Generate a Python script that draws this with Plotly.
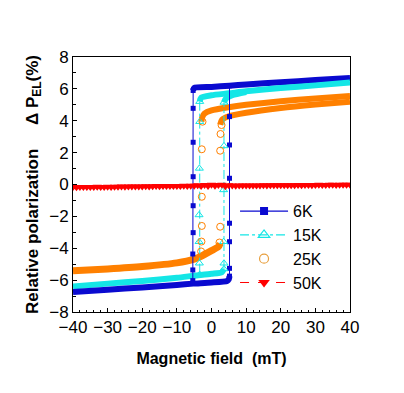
import plotly.graph_objects as go

# ---------------- data ----------------
# 6K (blue)
b6_low_x = [-40, -30, -20, -10, -5.3, 0, 4.5, 5.0, 5.2]
b6_low_y = [-6.75, -6.6, -6.46, -6.3, -6.22, -6.15, -6.05, -5.95, -5.75]
b6_up_x = [40, 30, 20, 10, 5.2, 0, -5.0, -5.3]
b6_up_y = [6.68, 6.55, 6.42, 6.28, 6.2, 6.12, 6.06, 5.9]
b6_jl_x = [-5.3, -5.3, -5.3, -5.3, -5.3, -5.3, -5.4, -5.4, -5.4, -5.4]
b6_jl_y = [5.9, 4.78, 2.65, 0.49, -1.33, -3.02, -4.36, -5.36, -6.03, -6.2]
b6_jr_x = [5.2, 5.2, 5.2, 5.2, 5.2, 5.2, 5.2, 5.2]
b6_jr_y = [-5.75, -5.26, -3.59, -2.43, 0.39, 2.48, 4.26, 6.2]

# 15K (cyan)
c15_low_x = [-40, -30, -20, -10, -5, 0, 3.0, 3.6]
c15_low_y = [-6.4, -6.22, -6.05, -5.85, -5.72, -5.6, -5.5, -5.3]
c15_upA_x = [40, 30, 20, 10, 5, 0, -3.0, -3.4]
c15_upA_y = [6.4, 6.22, 6.05, 5.85, 5.72, 5.6, 5.45, 5.2]
c15_upB_x = [3.6, 4.2, 6, 10]
c15_upB_y = [5.15, 5.4, 5.6, 5.8]
c15_jl_x = [-3.4, -3.4, -3.5, -3.6, -3.6, -3.5, -3.4]
c15_jl_y = [5.2, 3.94, 1.01, -1.91, -3.59, -4.94, -5.65]
c15_jr_x = [3.6, 3.6, 3.5, 3.5, 3.6, 3.6]
c15_jr_y = [-5.3, -4.94, -3.59, -0.34, 2.42, 5.15]

# 25K (orange)
o25_upA_x = [40, 30, 20, 10, 5, 0, -2.0, -2.7, -2.9]
o25_upA_y = [5.55, 5.4, 5.22, 5.0, 4.85, 4.65, 4.45, 4.2, 3.95]
o25_low_x = [-40, -30, -20, -10, -5, -3, 0, 2.0, 2.5]
o25_low_y = [-5.42, -5.3, -5.15, -4.92, -4.68, -4.5, -4.15, -3.9, -3.7]
o25_upB_x = [2.5, 3.0, 5, 10, 20, 30, 40]
o25_upB_y = [3.75, 4.05, 4.28, 4.5, 4.8, 5.02, 5.2]
o25_pts_x = [-2.6, -2.8, -2.8, -2.8, -2.9, -3.0, 2.9, 2.6, 2.5, 2.5, 2.3]
o25_pts_y = [3.94, 2.21, -0.77, -2.6, -3.58, -4.2, 3.73, 3.17, 2.12, -2.65, -3.64]

# 50K (red)
r50_x = list(range(-40, 41))
r50_y = [-0.16, -0.17, -0.15, -0.16, -0.16, -0.15, -0.16, -0.14, -0.15, -0.15,
         -0.14, -0.15, -0.14, -0.14, -0.13, -0.14, -0.13, -0.13, -0.12, -0.13,
         -0.12, -0.11, -0.12, -0.11, -0.10, -0.11, -0.10, -0.10, -0.09, -0.10,
         -0.09, -0.09, -0.08, -0.09, -0.08, -0.08, -0.04, -0.10, -0.03, -0.09,
         -0.02, -0.08, -0.03, -0.01, -0.11, -0.04, -0.07, -0.08, -0.07, -0.07,
         -0.07, -0.06, -0.07, -0.06, -0.06, -0.05, -0.06, -0.05, -0.05, -0.05,
         -0.05, -0.04, -0.05, -0.04, -0.04, -0.03, -0.04, -0.03, -0.03, -0.04,
         -0.03, -0.02, -0.03, -0.03, -0.02, -0.02, -0.03, -0.01, -0.02, -0.02,
         -0.01]

legend_names = ["6K", "15K", "25K", "50K"]
x_ticks = [-40, -30, -20, -10, 0, 10, 20, 30, 40]
y_ticks = [-8, -6, -4, -2, 0, 2, 4, 6, 8]

BLUE = "#0A0AD0"
CYAN = "#14E6E6"
ORANGE = "#FF8000"
RED = "#FF0000"

fig = go.Figure()


def band(x, y, color, width):
    fig.add_trace(go.Scatter(x=x, y=y, mode="lines", showlegend=False,
                             line=dict(color=color, width=width, shape="spline", smoothing=0.6),
                             hoverinfo="skip"))


# bands
band(o25_low_x, o25_low_y, ORANGE, 7)
band(c15_low_x, c15_low_y, CYAN, 6)
band(b6_low_x, b6_low_y, BLUE, 6)
band(b6_up_x, b6_up_y, BLUE, 6)
band(c15_upA_x, c15_upA_y, CYAN, 6)
band(c15_upB_x, c15_upB_y, CYAN, 6)
band(o25_upA_x, o25_upA_y, ORANGE, 6)
band(o25_upB_x, o25_upB_y, ORANGE, 6)

# jumps
for jx, jy in [(b6_jl_x, b6_jl_y), (b6_jr_x, b6_jr_y)]:
    fig.add_trace(go.Scatter(x=jx, y=jy, mode="lines+markers", showlegend=False,
                             line=dict(color=BLUE, width=1),
                             marker=dict(symbol="square", size=5, color=BLUE)))
for jx, jy in [(c15_jl_x, c15_jl_y), (c15_jr_x, c15_jr_y)]:
    fig.add_trace(go.Scatter(x=jx, y=jy, mode="lines+markers", showlegend=False,
                             line=dict(color=CYAN, width=1, dash="dashdot"),
                             marker=dict(symbol="triangle-up-open", size=7, color=CYAN,
                                         line=dict(width=1))))
fig.add_trace(go.Scatter(x=o25_pts_x, y=o25_pts_y, mode="markers", showlegend=False,
                         marker=dict(symbol="circle-open", size=7, color=ORANGE,
                                     line=dict(width=1))))

# 50K
fig.add_trace(go.Scatter(x=r50_x, y=r50_y, mode="lines+markers", showlegend=False,
                         line=dict(color=RED, width=3),
                         marker=dict(symbol="triangle-down", size=8, color=RED)))

# legend entries
fig.add_trace(go.Scatter(x=[None], y=[None], name=legend_names[0], mode="lines+markers",
                         line=dict(color=BLUE, width=1.2),
                         marker=dict(symbol="square", size=8, color=BLUE)))
fig.add_trace(go.Scatter(x=[None], y=[None], name=legend_names[1], mode="lines+markers",
                         line=dict(color=CYAN, width=1.2, dash="dashdot"),
                         marker=dict(symbol="triangle-up-open", size=10, color=CYAN,
                                     line=dict(width=1.2))))
fig.add_trace(go.Scatter(x=[None], y=[None], name=legend_names[2], mode="markers",
                         marker=dict(symbol="circle-open", size=9, color="#E8A040",
                                     line=dict(width=1.2))))
fig.add_trace(go.Scatter(x=[None], y=[None], name=legend_names[3], mode="lines+markers",
                         line=dict(color=RED, width=1, dash="dash"),
                         marker=dict(symbol="triangle-down", size=10, color=RED)))

nb = "\u00a0"
fig.update_layout(
    width=388, height=377,
    margin=dict(l=65, r=46, t=49, b=73),
    plot_bgcolor="white", paper_bgcolor="white",
    font=dict(family="Liberation Sans, Arial, sans-serif", size=17, color="black"),
    legend=dict(x=0.585, y=0.462, xanchor="left", yanchor="top",
                bgcolor="rgba(0,0,0,0)", font=dict(size=16), itemwidth=48,
                tracegroupgap=0),
    xaxis=dict(range=[-40, 40], tickvals=x_ticks, ticks="inside", ticklen=4,
               tickcolor="black", showline=True, linecolor="black", linewidth=1,
               mirror=True, showgrid=False, zeroline=False,
               minor=dict(dtick=2, ticks="inside", ticklen=2.5, tickcolor="black"),
               title=dict(text="<b>Magnetic field" + nb + nb + "(mT)</b>",
                          font=dict(size=16), standoff=16)),
    yaxis=dict(range=[-8, 8], tickvals=y_ticks, ticks="inside", ticklen=4,
               tickcolor="black", showline=True, linecolor="black", linewidth=1,
               mirror=True, showgrid=False, zeroline=False,
               minor=dict(dtick=1, ticks="inside", ticklen=2.5, tickcolor="black"),
               title=dict(text="<b>Relative polarization" + nb * 5 + "Δ" + nb + "P<sub>EL</sub>(%)</b>",
                          font=dict(size=17), standoff=6)),
)

fig.write_html("out.html")
